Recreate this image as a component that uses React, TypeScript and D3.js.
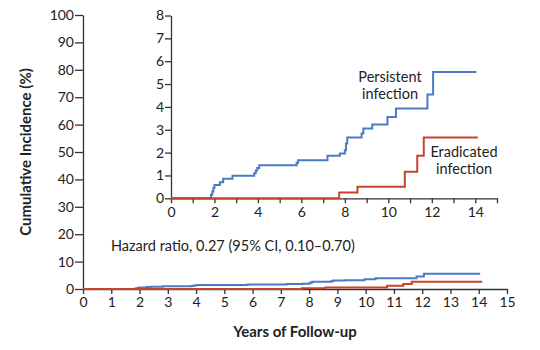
import React, { useRef, useEffect } from 'react';
import * as d3 from 'd3';

// Kaplan-Meier style cumulative incidence (%)
const persistentYears = [0, 1.84, 1.9, 1.95, 2.0, 2.25, 2.4, 2.83, 3.83, 3.9, 3.97, 4.06, 5.78, 5.85, 7.2, 7.77, 8.0, 8.05, 8.11, 8.77, 8.85, 9.26, 9.96, 10.35, 11.8, 12.06, 14.05];
const persistentValues = [0, 0.15, 0.3, 0.45, 0.58, 0.7, 0.86, 0.99, 1.1, 1.22, 1.33, 1.45, 1.56, 1.67, 1.86, 1.96, 2.1, 2.4, 2.66, 2.84, 3.06, 3.23, 3.56, 3.93, 4.54, 5.53, 5.53];
const eradicatedYears = [0, 7.74, 8.58, 10.76, 11.33, 11.63, 14.12];
const eradicatedValues = [0, 0.25, 0.51, 1.16, 1.86, 2.66, 2.66];

const mainYTicks = [0, 10, 20, 30, 40, 50, 60, 70, 80, 90, 100];
const mainXTicks = [0, 1, 2, 3, 4, 5, 6, 7, 8, 9, 10, 11, 12, 13, 14, 15];
const insetYTicks = [0, 1, 2, 3, 4, 5, 6, 7, 8];
const insetXTicks = [0, 1, 2, 3, 4, 5, 6, 7, 8, 9, 10, 11, 12, 13, 14, 15];

const BLUE = '#4a7bc4';
const RED = '#c9432c';
const TEXT = '#222';
const FONT = 'Lato, "Noto Sans", sans-serif';

const App: React.FC = () => {
  const svgRef = useRef<SVGSVGElement>(null);

  useEffect(() => {
    if (!svgRef.current) return;
    const svg = d3.select(svgRef.current);
    svg.selectAll('*').remove();

    const persistent = persistentYears.map((t, i) => [t, persistentValues[i]] as [number, number]);
    const eradicated = eradicatedYears.map((t, i) => [t, eradicatedValues[i]] as [number, number]);

    const styleAxis = (g: d3.Selection<SVGGElement, unknown, null, undefined>) => {
      g.select('.domain').attr('stroke', '#333').attr('stroke-width', 1.3);
      g.selectAll('.tick line').attr('stroke', '#333').attr('stroke-width', 1.3);
      g.selectAll('.tick text').attr('fill', TEXT).attr('font-size', 14).attr('font-family', FONT);
    };

    // main chart
    const x = d3.scaleLinear().domain([0, 15]).range([83, 507]);
    const y = d3.scaleLinear().domain([0, 100]).range([289, 15]);

    const gx = svg.append('g').attr('transform', `translate(0,${y(0)})`)
      .call(d3.axisBottom(x).tickValues(mainXTicks).tickSize(5).tickSizeOuter(0).tickPadding(3));
    styleAxis(gx);
    const gy = svg.append('g').attr('transform', `translate(${x(0)},0)`)
      .call(d3.axisLeft(y).tickValues(mainYTicks).tickSize(8).tickSizeOuter(0).tickPadding(1));
    styleAxis(gy);

    const mainLine = d3.line<[number, number]>().x(d => x(d[0])).y(d => y(d[1])).curve(d3.curveStepAfter);
    svg.append('path').attr('d', mainLine(persistent)).attr('fill', 'none').attr('stroke', BLUE).attr('stroke-width', 2);
    svg.append('path').attr('d', mainLine(eradicated)).attr('fill', 'none').attr('stroke', RED).attr('stroke-width', 2);

    // inset
    const ix = d3.scaleLinear().domain([0, 15]).range([171, 497]);
    const iy = d3.scaleLinear().domain([0, 8]).range([198.3, 15.5]);

    const igx = svg.append('g').attr('transform', `translate(0,${iy(0)})`)
      .call(d3.axisBottom(ix).tickValues(insetXTicks).tickSize(5).tickSizeOuter(0).tickPadding(4)
        .tickFormat(d => (+d % 2 === 0 && +d <= 14 ? String(d) : '')));
    styleAxis(igx);
    const igy = svg.append('g').attr('transform', `translate(${ix(0)},0)`)
      .call(d3.axisLeft(iy).tickValues(insetYTicks).tickSize(6).tickSizeOuter(0).tickPadding(1));
    styleAxis(igy);

    const insetLine = d3.line<[number, number]>().x(d => ix(d[0])).y(d => iy(d[1])).curve(d3.curveStepAfter);
    svg.append('path').attr('d', insetLine(persistent)).attr('fill', 'none').attr('stroke', BLUE).attr('stroke-width', 2);
    svg.append('path').attr('d', insetLine(eradicated)).attr('fill', 'none').attr('stroke', RED).attr('stroke-width', 2);

    // labels
    const label = (txt: string, lx: number, ly: number, size = 14.5, weight = 'normal') =>
      svg.append('text').attr('x', lx).attr('y', ly).attr('text-anchor', 'middle')
        .attr('font-family', FONT).attr('font-size', size).attr('font-weight', weight)
        .attr('fill', TEXT).text(txt);

    label('Persistent', 390, 82);
    label('infection', 390, 99);
    label('Eradicated', 464, 157);
    label('infection', 464, 174);

    svg.append('text').attr('x', 111).attr('y', 251)
      .attr('font-family', FONT).attr('font-size', 14.5).attr('fill', TEXT)
      .text('Hazard ratio, 0.27 (95% CI, 0.10–0.70)');

    label('Years of Follow-up', 295, 337, 15, 'bold');

    svg.append('text').attr('transform', 'translate(31,152) rotate(-90)')
      .attr('text-anchor', 'middle').attr('font-family', FONT).attr('font-size', 15)
      .attr('font-weight', 'bold').attr('fill', TEXT).text('Cumulative Incidence (%)');
  }, []);

  return (
    <svg ref={svgRef} width={540} height={350}
      style={{ position: 'absolute', left: 0, top: 0, background: '#fff' }} />
  );
};

export default App;
